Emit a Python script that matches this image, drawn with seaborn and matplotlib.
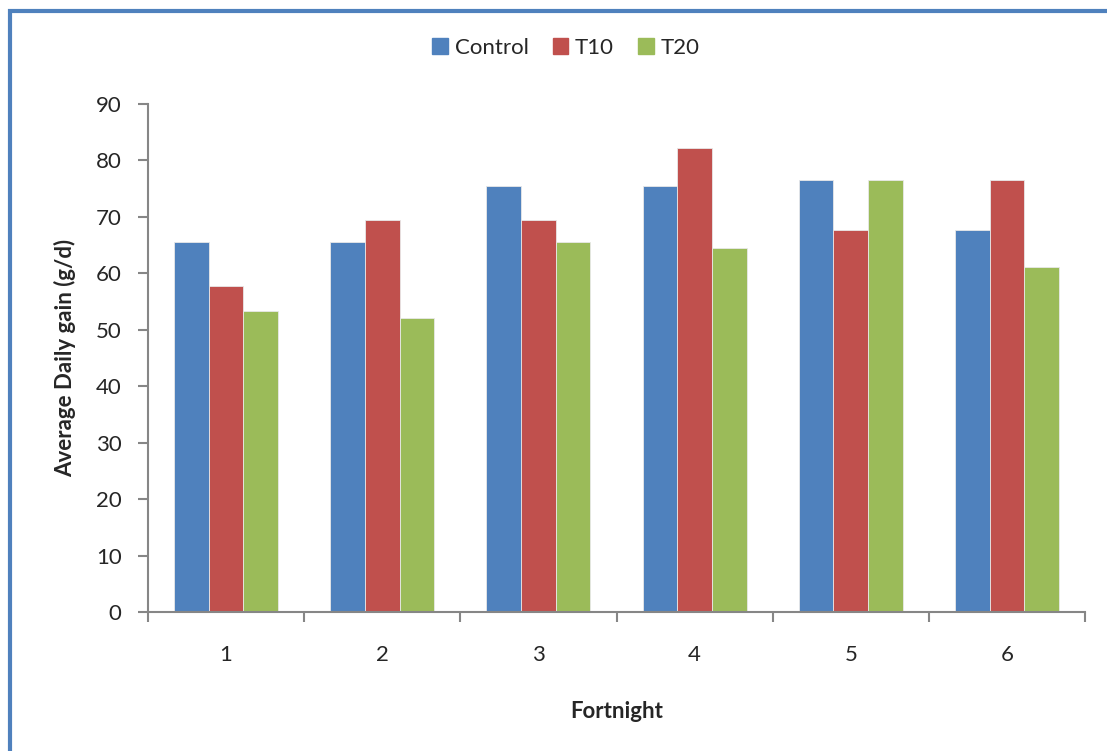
import matplotlib
matplotlib.use("Agg")
import matplotlib.pyplot as plt
import matplotlib.patches as mpatches
import seaborn as sns
import pandas as pd
from matplotlib.ticker import FixedLocator, NullFormatter

fortnights = ["1", "2", "3", "4", "5", "6"]
control = [65.5, 65.5, 75.5, 75.5, 76.6, 67.7]
t10 = [57.7, 69.4, 69.5, 82.2, 67.7, 76.6]
t20 = [53.3, 52.1, 65.5, 64.4, 76.6, 61.1]
series_names = ["Control", "T10", "T20"]
colors = ["#4F81BD", "#C0504D", "#9BBB59"]
yticks = [0, 10, 20, 30, 40, 50, 60, 70, 80, 90]

rows = []
for name, vals in zip(series_names, [control, t10, t20]):
    for f, v in zip(fortnights, vals):
        rows.append({"Fortnight": f, "Series": name, "Value": v})
df = pd.DataFrame(rows)

sns.set_theme(style="white")
plt.rcParams["font.family"] = ["Lato", "DejaVu Sans"]

fig = plt.figure(figsize=(11.07, 7.51), dpi=100)
ax = fig.add_axes([148/1107, 1-612/751, (1085-148)/1107, (612-104)/751])

sns.barplot(data=df, x="Fortnight", y="Value", hue="Series", order=fortnights,
            hue_order=series_names, palette=colors, saturation=1, width=0.667,
            edgecolor="#E8E8E8", linewidth=0.6, ax=ax, legend=True)

ax.set_xlim(-0.5, len(fortnights) - 0.5)
ax.set_ylim(0, 90)
ax.set_yticks(yticks)
ax.set_yticklabels([str(t) for t in yticks], fontsize=16)

# Category boundaries as major ticks, labels at centers via minor ticks
ax.xaxis.set_major_locator(FixedLocator([i - 0.5 for i in range(len(fortnights) + 1)]))
ax.xaxis.set_major_formatter(NullFormatter())
ax.xaxis.set_minor_locator(FixedLocator(list(range(len(fortnights)))))
ax.set_xticklabels(fortnights, minor=True, fontsize=16)
ax.tick_params(axis="x", which="major", direction="out", length=7, width=1.5,
               color="#868686", bottom=True)
ax.tick_params(axis="x", which="minor", length=0, pad=24, bottom=True)
ax.tick_params(axis="y", direction="out", length=7, width=1.5, color="#868686",
               left=True, pad=12)

for s in ["top", "right"]:
    ax.spines[s].set_visible(False)
for s in ["left", "bottom"]:
    ax.spines[s].set_color("#868686")
    ax.spines[s].set_linewidth(1.5)

ax.set_xlabel("Fortnight", fontsize=16, fontweight="bold", labelpad=26)
ax.set_ylabel("Average Daily gain (g/d)", fontsize=16, fontweight="bold", labelpad=14)

# Legend
ax.get_legend().remove()
handles = [mpatches.Patch(color=c, label=n) for c, n in zip(colors, series_names)]
fig.legend(handles=handles, loc="center", bbox_to_anchor=(566/1107, 1-48/751),
           ncol=3, frameon=False, fontsize=16, handlelength=0.7, handleheight=0.7,
           handletextpad=0.3, columnspacing=1.1)

# Blue frame (left and top edges visible)
frame = mpatches.Rectangle((10/1107, -0.2), 1.2, 1.2 - 10.5/751, transform=fig.transFigure,
                           fill=False, edgecolor="#4F81BD", linewidth=3.0, clip_on=False)
fig.patches.append(frame)

fig.savefig("out.png", dpi=100)
